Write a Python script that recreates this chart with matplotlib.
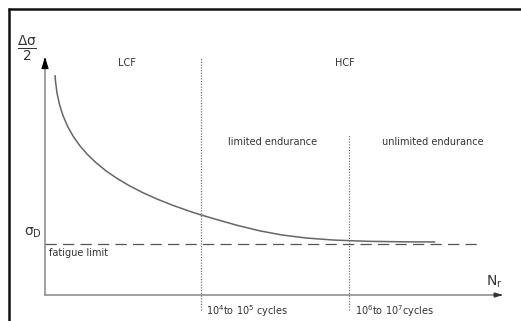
import numpy as np
import matplotlib
matplotlib.use('Agg')
import matplotlib.pyplot as plt
from matplotlib.lines import Line2D
from matplotlib.path import Path
from matplotlib.patches import PathPatch

# schematic S-N (Woehler) curve, axis units are 0..100 of each axis
# two cubic bezier segments: start, control, control, end
curve_x = [2.2, 3.0, 12.0, 33.8, 50.0, 55.0, 85.2]
curve_y = [92.4, 64.0, 47.0, 33.8, 24.5, 22.3, 22.3]
fatigue_limit = 21.4
limit_x_end = 94.5
bounds = [34.0, 66.4]            # 10^4-10^5 and 10^6-10^7 cycles
bound_top = [100, 67.2]
regions = ['LCF', 'HCF']
region_x = [17.9, 65.5]
zones = ['limited endurance', 'unlimited endurance']
zone_x = [49.6, 84.7]
cycle_labels = [r'$10^4$to $10^5$ cycles', r'$10^6$to $10^7$cycles']

fig = plt.figure(figsize=(5.21, 3.21), dpi=100)
fig.patch.set_facecolor('white')
ax = fig.add_axes([45 / 521, 26 / 321, 458 / 521, 238 / 321])
ax.set_xlim(0, 100)
ax.set_ylim(0, 100)
ax.axis('off')

txt = '#333333'

# axes with arrows
ax.plot([0, 0], [0, 99], color='#999999', lw=1.3, clip_on=False)
ax.plot([0, 99.5], [0, 0], color='#999999', lw=1.3, clip_on=False)
ax.annotate('', xy=(0, 100), xytext=(0, 95.5), xycoords='data',
            arrowprops=dict(arrowstyle='-|>,head_length=0.7,head_width=0.22',
                            color='black', lw=0.8, shrinkA=0, shrinkB=0),
            annotation_clip=False)
ax.annotate('', xy=(100, 0), xytext=(98, 0), xycoords='data',
            arrowprops=dict(arrowstyle='-|>,head_length=0.5,head_width=0.15',
                            color='#333333', lw=0.8, shrinkA=0, shrinkB=0),
            annotation_clip=False)

# curve and fatigue limit
verts = list(zip(curve_x, curve_y))
codes = [Path.MOVETO] + [Path.CURVE4] * (len(verts) - 1)
ax.add_patch(PathPatch(Path(verts, codes), facecolor='none',
                       edgecolor='#666666', lw=1.1, clip_on=False))
ax.plot([0, limit_x_end], [fatigue_limit, fatigue_limit], color='#555555',
        lw=0.9, dashes=(9, 5), clip_on=False)

# region boundaries
for bx, top, lab in zip(bounds, bound_top, cycle_labels):
    ax.plot([bx, bx], [-6.5, top], color='#777777', lw=0.9, ls=(0, (1, 1.2)),
            clip_on=False)
    ax.text(bx + 1.2, -6.7, lab, fontsize=7, color=txt, ha='left',
            va='center', clip_on=False)

for x, lab in zip(region_x, regions):
    ax.text(x, 97.3, lab, fontsize=7, color=txt, ha='center', va='center')
for x, lab in zip(zone_x, zones):
    ax.text(x, 64.3, lab, fontsize=7, color=txt, ha='center', va='center')

ax.text(0.9, 17.6, 'fatigue limit', fontsize=7, color=txt, ha='left',
        va='center')
ax.text(-2.7, 26, r'$\mathregular{\sigma_D}$', fontsize=10, color=txt,
        ha='center', va='center', clip_on=False)
ax.text(-4.0, 103.5, r'$\mathregular{\frac{\Delta\sigma}{2}}$', fontsize=14,
        color=txt, ha='center', va='center', clip_on=False)
ax.text(98, 5.5, r'$\mathregular{N_r}$', fontsize=10, color=txt, ha='center',
        va='center', clip_on=False)

# frame lines (top and left only)
fig.add_artist(Line2D([8 / 521, 1], [1 - 9 / 321, 1 - 9 / 321],
                      color='#111111', lw=1.8, solid_capstyle='butt',
                      transform=fig.transFigure))
fig.add_artist(Line2D([9 / 521, 9 / 521], [0, 1 - 8 / 321],
                      color='#111111', lw=1.8, solid_capstyle='butt',
                      transform=fig.transFigure))

fig.savefig('out.png', dpi=100, facecolor='white')
